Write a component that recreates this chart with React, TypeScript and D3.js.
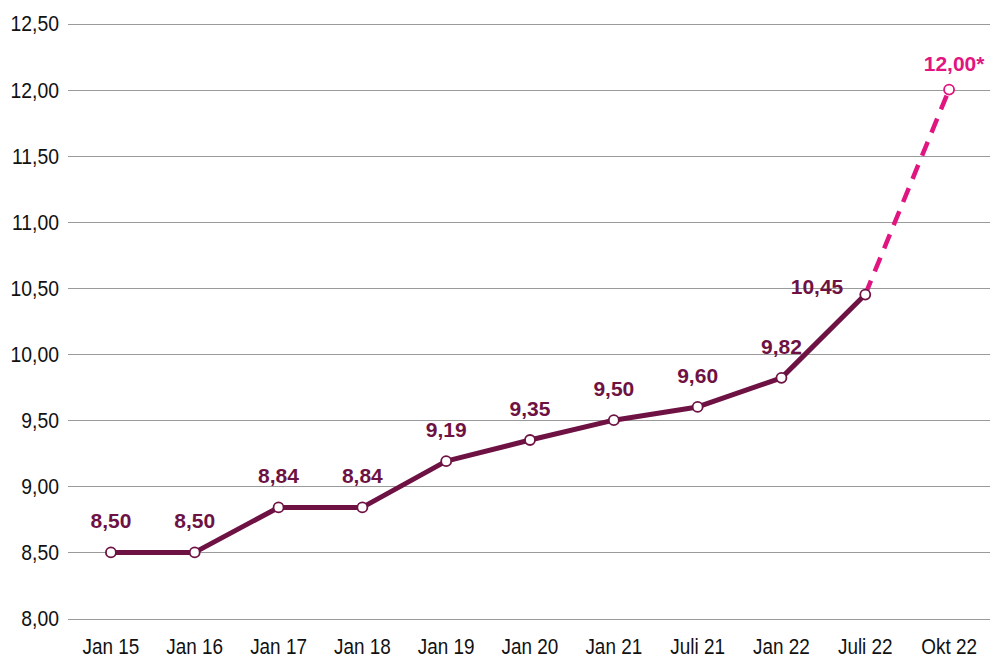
import React from "react";
import * as d3 from "d3";

const categories = ["Jan 15", "Jan 16", "Jan 17", "Jan 18", "Jan 19", "Jan 20", "Jan 21", "Juli 21", "Jan 22", "Juli 22", "Okt 22"];
const values = [8.5, 8.5, 8.84, 8.84, 9.19, 9.35, 9.5, 9.6, 9.82, 10.45, 12.0];
const labels = ["8,50", "8,50", "8,84", "8,84", "9,19", "9,35", "9,50", "9,60", "9,82", "10,45", "12,00*"];
const yTicks = [8, 8.5, 9, 9.5, 10, 10.5, 11, 11.5, 12, 12.5];

const W = 990;
const H = 659;
const FONT = "'Liberation Sans', Arial, sans-serif";
const MAROON = "#6e1244";
const PINK = "#e0157f";
const SX = 0.88;

export default function App() {
  const x = d3.scaleBand<string>().domain(categories).range([69, 991]);
  const y = d3.scaleLinear().domain([8, 12.5]).range([618.5, 23.5]);
  const cx = (i: number) => (x(categories[i]) as number) + x.bandwidth() / 2;
  const n = values.length;
  const solidIdx = d3.range(0, n - 1);
  const line = d3
    .line<number>()
    .x((i) => cx(i))
    .y((i) => y(values[i]));
  const fmt = (v: number) => v.toFixed(2).replace(".", ",");

  return (
    <svg width={W} height={H} style={{ position: "absolute", left: 0, top: 0, background: "#fff" }} fontFamily={FONT}>
      {yTicks.map((t) => (
        <g key={t}>
          <line x1={68} x2={990} y1={Math.round(y(t)) + 0.5} y2={Math.round(y(t)) + 0.5} stroke="#9a9a9a" strokeWidth={1} />
          <text transform={`translate(59,${y(t)}) scale(${SX},1)`} dy="0.36em" textAnchor="end" fontSize={22} fill="#111">
            {fmt(t)}
          </text>
        </g>
      ))}
      {categories.map((c, i) => (
        <text key={c} transform={`translate(${cx(i)},654) scale(${SX},1)`} textAnchor="middle" fontSize={21.5} fill="#111">
          {c}
        </text>
      ))}
      <path d={line(solidIdx) || ""} fill="none" stroke={MAROON} strokeWidth={5} strokeLinejoin="round" />
      <path d={line([n - 2, n - 1]) || ""} fill="none" stroke={PINK} strokeWidth={4.5} strokeDasharray="15 10" />
      {values.map((v, i) => (
        <circle key={i} cx={cx(i)} cy={y(v)} r={5} fill="#fff" stroke={i === n - 1 ? PINK : MAROON} strokeWidth={1.8} />
      ))}
      {values.map((v, i) => {
        const isLast = i === n - 1;
        const isJuli22 = i === n - 2;
        let tx = cx(i);
        let ty = y(v) - 24;
        let anchor = "middle";
        if (isJuli22) {
          tx = cx(i) - 22;
          ty = y(v) - 1;
          anchor = "end";
        }
        if (isLast) {
          tx = cx(i) + 5;
          ty = y(v) - 19;
        }
        return (
          <text key={"l" + i} x={tx} y={ty} textAnchor={anchor} fontSize={21} fontWeight="bold" fill={isLast ? PINK : MAROON}>
            {labels[i]}
          </text>
        );
      })}
    </svg>
  );
}
